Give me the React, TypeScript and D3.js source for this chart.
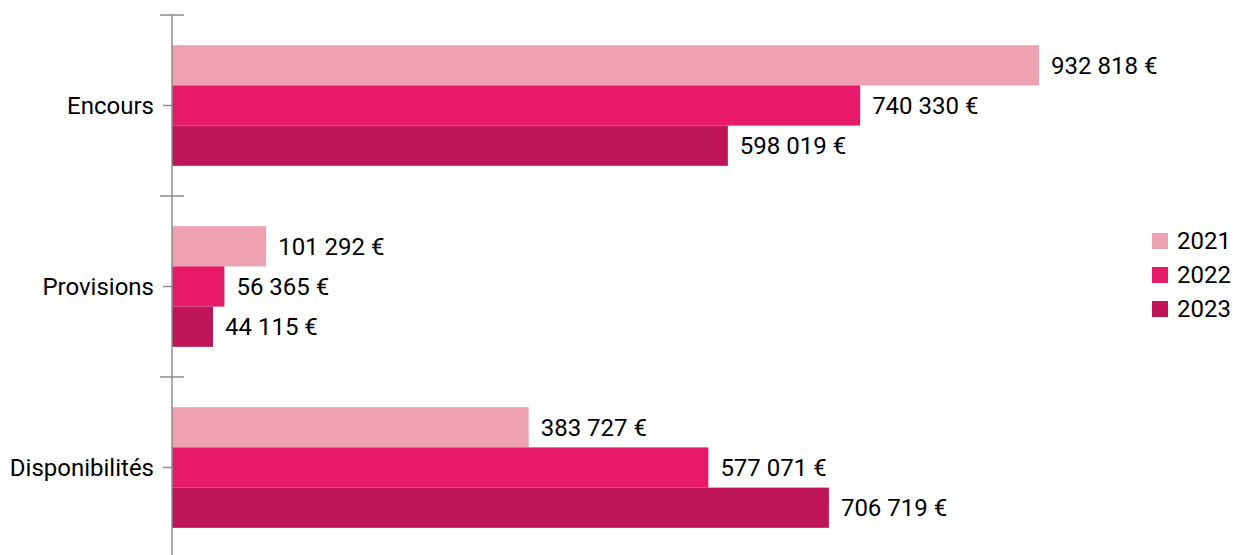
import React from 'react';
import * as d3 from 'd3';

const categories = ['Encours', 'Provisions', 'Disponibilités'];
const years = ['2021', '2022', '2023'];
const values2021 = [932818, 101292, 383727];
const values2022 = [740330, 56365, 577071];
const values2023 = [598019, 44115, 706719];
const seriesValues = [values2021, values2022, values2023];
const colors = ['#EDA1B1', '#E61A68', '#BD1558'];

const fmt = (v: number) => d3.format(',')(v).replace(/,/g, ' ') + ' €';

const App = () => {
  const width = 1234;
  const height = 555;
  const font = 'Roboto, "Open Sans", sans-serif';
  const axisColor = '#8c8c8c';

  const x = d3.scaleLinear().domain([0, 1000000]).range([172, 172 + 929.5]);
  const y = d3.scaleBand().domain(categories).range([15, 15 + 3 * 181]).padding(0);
  const inner = d3
    .scaleBand()
    .domain(years)
    .range([0, y.bandwidth()])
    .paddingInner(0)
    .paddingOuter(0.75);

  const x0 = x(0);

  return (
    <svg
      width={width}
      height={height}
      style={{ position: 'absolute', left: 0, top: 0, background: '#fff' }}
      fontFamily={font}
    >
      {/* bars */}
      {categories.map((cat, ci) => (
        <g key={cat} transform={`translate(0,${y(cat)})`}>
          {years.map((yr, si) => {
            const v = seriesValues[si][ci];
            const by = inner(yr)!;
            const bh = inner.bandwidth();
            return (
              <g key={yr}>
                <rect x={x0} y={by} width={x(v) - x0} height={bh} fill={colors[si]} />
                <text
                  x={x(v) + 12}
                  y={by + bh / 2}
                  dy="0.35em"
                  fontSize={24}
                  fill="#000"
                >
                  {fmt(v)}
                </text>
              </g>
            );
          })}
        </g>
      ))}

      {/* axis */}
      <line x1={x0} x2={x0} y1={15} y2={height + 5} stroke={axisColor} strokeWidth={1.5} />
      {[...categories.map((c) => y(c)!), y.range()[1]].map((t, i) => (
        <line key={i} x1={x0 - 12} x2={x0 + 12} y1={t} y2={t} stroke={axisColor} strokeWidth={1.5} />
      ))}
      {categories.map((c) => {
        const cy = y(c)! + y.bandwidth() / 2;
        return (
          <g key={c}>
            <line x1={x0 - 9} x2={x0} y1={cy} y2={cy} stroke={axisColor} strokeWidth={1.5} />
            <text x={x0 - 18} y={cy} dy="0.35em" textAnchor="end" fontSize={24} fill="#000">
              {c}
            </text>
          </g>
        );
      })}

      {/* legend */}
      {years.map((yr, i) => {
        const ly = 241 + i * 34;
        return (
          <g key={yr}>
            <rect x={1152} y={ly - 8} width={16} height={16} fill={colors[i]} />
            <text x={1177} y={ly} dy="0.35em" fontSize={24} fill="#000">
              {yr}
            </text>
          </g>
        );
      })}
    </svg>
  );
};

export default App;
